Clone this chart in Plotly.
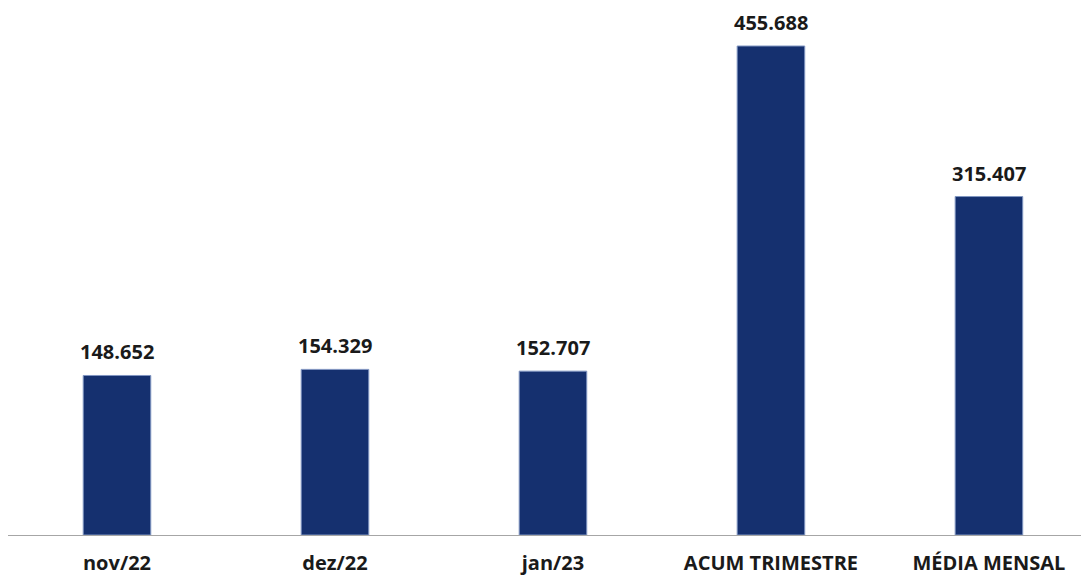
import plotly.graph_objects as go

# Data
categories = ["nov/22", "dez/22", "jan/23", "ACUM TRIMESTRE", "MÉDIA MENSAL"]
values = [148652, 154329, 152707, 455688, 315407]


def fmt_br(v):
    # Brazilian thousands separator
    return f"{v:,}".replace(",", ".")


fig = go.Figure()

fig.add_trace(go.Bar(
    x=categories,
    y=values,
    width=0.31,
    marker=dict(color="#15306f", line=dict(color="#8196c2", width=1)),
    hoverinfo="x+y",
))

# value labels above the bars
for cat, v in zip(categories, values):
    fig.add_annotation(
        x=cat, y=v, text=fmt_br(v),
        showarrow=False, yanchor="bottom", yshift=8,
        font=dict(family="Open Sans", size=20, color="#1a1a1a", weight="bold"),
    )

# page body keeps an 8px margin, so the figure is a bit smaller than the window
fig.update_layout(
    width=1081,
    height=568,
    margin=dict(l=0, r=0, t=0, b=41),
    paper_bgcolor="white",
    plot_bgcolor="white",
    showlegend=False,
)

fig.update_xaxes(
    range=[-0.5, 4.459],
    automargin=False,
    showline=True,
    linecolor="#a6a6a6",
    linewidth=1,
    showgrid=False,
    ticks="",
    ticklabelstandoff=10,
    tickfont=dict(family="Open Sans", size=20, color="#1a1a1a", weight="bold"),
)
fig.update_yaxes(
    range=[0, 491100],
    visible=False,
    showgrid=False,
)

fig.write_html("out.html")
